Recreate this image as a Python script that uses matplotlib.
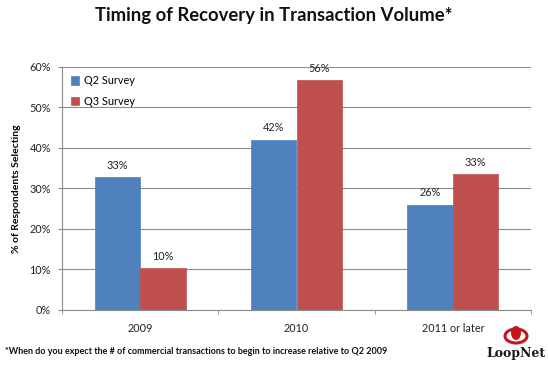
import numpy as np
import matplotlib.pyplot as plt
from matplotlib.patches import Ellipse

# chart data
categories = ["2009", "2010", "2011 or later"]
q2_survey = [32.7, 42.0, 25.9]
q3_survey = [10.3, 56.6, 33.5]
q2_labels = ["33%", "42%", "26%"]
q3_labels = ["10%", "56%", "33%"]

blue = "#4F81BD"
red = "#C0504D"
grid_col = "#8C8C8C"

plt.rcParams['font.family'] = ['Lato', 'DejaVu Sans']

fig = plt.figure(figsize=(5.48, 3.66), dpi=100)
ax = fig.add_axes([62 / 548, 1 - 310 / 366, (531 - 62) / 548, (310 - 66.7) / 366])

x = np.arange(len(categories))
w = 0.29
b1 = ax.bar(x - w / 2, q2_survey, w, color=blue, edgecolor=blue, linewidth=0.5,
            label="Q2 Survey", zorder=3)
b2 = ax.bar(x + w / 2, q3_survey, w, color=red, edgecolor=red, linewidth=0.5,
            label="Q3 Survey", zorder=3)

for bars, labs in ((b1, q2_labels), (b2, q3_labels)):
    for rect, lab in zip(bars, labs):
        ax.text(rect.get_x() + rect.get_width() / 2, rect.get_height() + 1.6, lab,
                ha="center", va="bottom", fontsize=7.8, color="#222222")

ax.set_xlim(-0.5, 2.5)
ax.set_ylim(0, 60)
ax.set_yticks(range(0, 61, 10))
ax.set_yticklabels([f"{v}%" for v in range(0, 61, 10)], fontsize=7.8, color="#222222")
ax.yaxis.grid(True, color=grid_col, linewidth=0.8, zorder=0)

ax.set_xticks(x)
ax.set_xticklabels(categories, fontsize=7.8, color="#222222")
ax.tick_params(axis="x", length=0, pad=9)
ax.set_xticks([-0.5, 0.5, 1.5, 2.5], minor=True)
ax.tick_params(axis="x", which="minor", length=3, color=grid_col, direction="out")
ax.tick_params(axis="y", length=3, color=grid_col, pad=5)

for s in ("top", "right"):
    ax.spines[s].set_visible(False)
for s in ("left", "bottom"):
    ax.spines[s].set_color(grid_col)
    ax.spines[s].set_linewidth(0.8)

ax.set_ylabel("% of Respondents Selecting", fontsize=7.5, fontweight="bold", labelpad=6)

leg = ax.legend(loc="upper left", bbox_to_anchor=(0.0, 1.0), frameon=False,
                fontsize=7.8, handlelength=0.8, handleheight=0.8, labelspacing=0.85,
                handletextpad=0.4, borderaxespad=0.4)

fig.text(0.5, 1 - 15 / 366, "Timing of Recovery in Transaction Volume*", ha="center", va="center",
         fontsize=13.3, fontweight="bold", color="#111111")

fig.text(5 / 548, 1 - 352 / 366,
         "*When do you expect the # of commercial transactions to begin to increase relative to Q2 2009",
         ha="left", va="center", fontsize=6.5, fontweight="bold", color="#111111")

# logo approximation
fig.text(516 / 548, 1 - 354 / 366, "LoopNet", ha="center", va="center", fontsize=9,
         fontweight="bold", family="DejaVu Serif", color="#1a1a1a")
fig.patches.append(Ellipse((516 / 548, 1 - 336 / 366), 22 / 548, 14 / 366,
                           transform=fig.transFigure, facecolor="none",
                           edgecolor="#C4161C", linewidth=2.2))
fig.patches.append(Ellipse((516 / 548, 1 - 333 / 366), 10 / 548, 14 / 366,
                           transform=fig.transFigure, facecolor="#C4161C", edgecolor="none"))

fig.savefig("out.png", dpi=100)
